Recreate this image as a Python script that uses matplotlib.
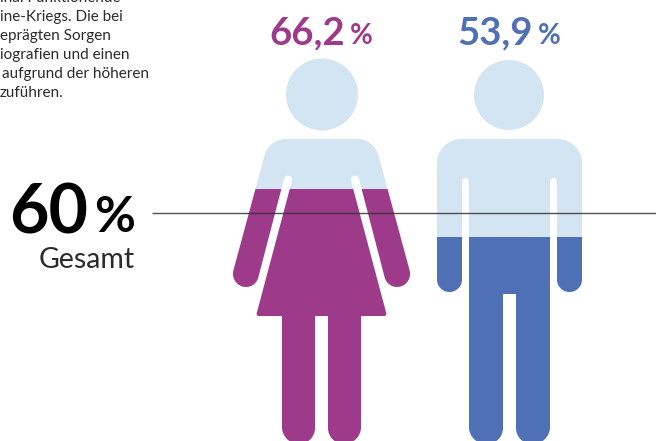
import matplotlib.pyplot as plt
from matplotlib.path import Path
from matplotlib.patches import PathPatch

plt.rcParams['font.family'] = ['Lato', 'DejaVu Sans']

# share of respondents
groups = ["Frauen", "Männer"]
values = [66.2, 53.9]
total = 60
total_label = "Gesamt"
body_text = ["inal Funktionende", "ine-Kriegs. Die bei", "eprägten Sorgen",
             "iografien und einen", "aufgrund der höheren", "zuführen."]

PURPLE = "#9E3A8A"
BLUE = "#4F70B5"
LIGHT = "#D3E4F3"
DARK = "#2b2b2b"
colors = [PURPLE, BLUE]

W, H = 656, 441
# percent scale: 3.9 px per percentage point, 60 % sits at y=213
PX_PER_PCT = 3.9
Y_TOTAL = 213


def rounded(points):
    """closed outline from (x, y, radius) corners"""
    verts, codes = [], []
    n = len(points)
    for i, (x, y, r) in enumerate(points):
        px, py, _ = points[i - 1]
        nx, ny, _ = points[(i + 1) % n]
        d1 = ((px - x) ** 2 + (py - y) ** 2) ** 0.5
        d2 = ((nx - x) ** 2 + (ny - y) ** 2) ** 0.5
        a = (x + (px - x) * r / d1, y + (py - y) * r / d1)
        b = (x + (nx - x) * r / d2, y + (ny - y) * r / d2)
        c1 = (a[0] + (x - a[0]) * 0.55, a[1] + (y - a[1]) * 0.55)
        c2 = (b[0] + (x - b[0]) * 0.55, b[1] + (y - b[1]) * 0.55)
        verts.append(a)
        codes.append(Path.MOVETO if i == 0 else Path.LINETO)
        verts += [c1, c2, b]
        codes += [Path.CURVE4] * 3
    verts.append(verts[0])
    codes.append(Path.CLOSEPOLY)
    return Path(verts, codes)


def mirrored(left_half, cx):
    right = [(2 * cx - x, y, r) for x, y, r in reversed(left_half)]
    return left_half + right


def with_head(body, cx, cy, r):
    head = Path.circle((cx, cy), r)
    return Path.make_compound_path(body, head)


# outlines are given clockwise from the shoulder, left half only
woman_half = [
    (269, 139, 16), (230, 283, 13), (255, 290, 13), (285, 175, 3.5), (293, 177, 3.5),
    (256, 316, 3), (282, 316, 0.1), (282, 444, 17), (315, 444, 16), (315, 316, 0.1),
]
man_half = [
    (437, 139, 24), (437, 292, 12.5), (462, 292, 12.5), (462, 178, 3.5), (469, 178, 3.5),
    (469, 444, 17), (503, 444, 16), (503, 294, 0.1),
]

woman_body = rounded(mirrored(woman_half, 321.5))
man_body = rounded(mirrored(man_half, 509.5))
figures = [with_head(woman_body, 322, 94.5, 36), with_head(man_body, 509, 95, 35)]
centers = [321.5, 509.5]

fig = plt.figure(figsize=(W / 100, H / 100), dpi=100)
ax = fig.add_axes([0, 0, 1, 1])
ax.set_xlim(0, W)
ax.set_ylim(H, 0)
ax.axis("off")

pct = fig.add_axes([0, 0, 1, 1], sharex=ax)
pct.set_ylim(total - (H - Y_TOTAL) / PX_PER_PCT, total + Y_TOTAL / PX_PER_PCT)
pct.axis("off")
pct.patch.set_alpha(0)

for outline, cx, value, color in zip(figures, centers, values, colors):
    ax.add_patch(PathPatch(outline, facecolor=LIGHT, edgecolor="none"))
    bar = pct.bar(cx, value, width=200, bottom=0, color=color)[0]
    bar.set_clip_path(PathPatch(outline, transform=ax.transData))

    number = f"{value:.1f}".replace(".", ",")
    pct.text(cx + 23.5, 44, number, color=color, fontsize=27.5, fontweight="bold",
             ha="right", va="baseline", transform=ax.transData)
    pct.text(cx + 28, 44, "%", color=color, fontsize=20, fontweight="bold",
             ha="left", va="baseline", transform=ax.transData)

pct.hlines(total, 152, W, color="#333333", lw=1, alpha=0.85)

pct.text(88.5, 233, f"{total}", color="black", fontsize=49, fontweight="bold",
         ha="right", va="baseline", transform=ax.transData)
pct.text(94, 232, "%", color="black", fontsize=36, fontweight="bold",
         ha="left", va="baseline", transform=ax.transData)
pct.text(135, 268, total_label, color=DARK, fontsize=20.5,
         ha="right", va="baseline", transform=ax.transData)

# the paragraph runs off the top and left of the frame
line_y = [1.5, 20.5, 40, 59, 78, 97]
line_x = [0, 0, 0, 0, 2, 0]
for x, y, line in zip(line_x, line_y, body_text):
    pct.text(x, y, line, color=DARK, fontsize=11, ha="left", va="baseline",
             transform=ax.transData)

fig.savefig("out.png", dpi=100)
